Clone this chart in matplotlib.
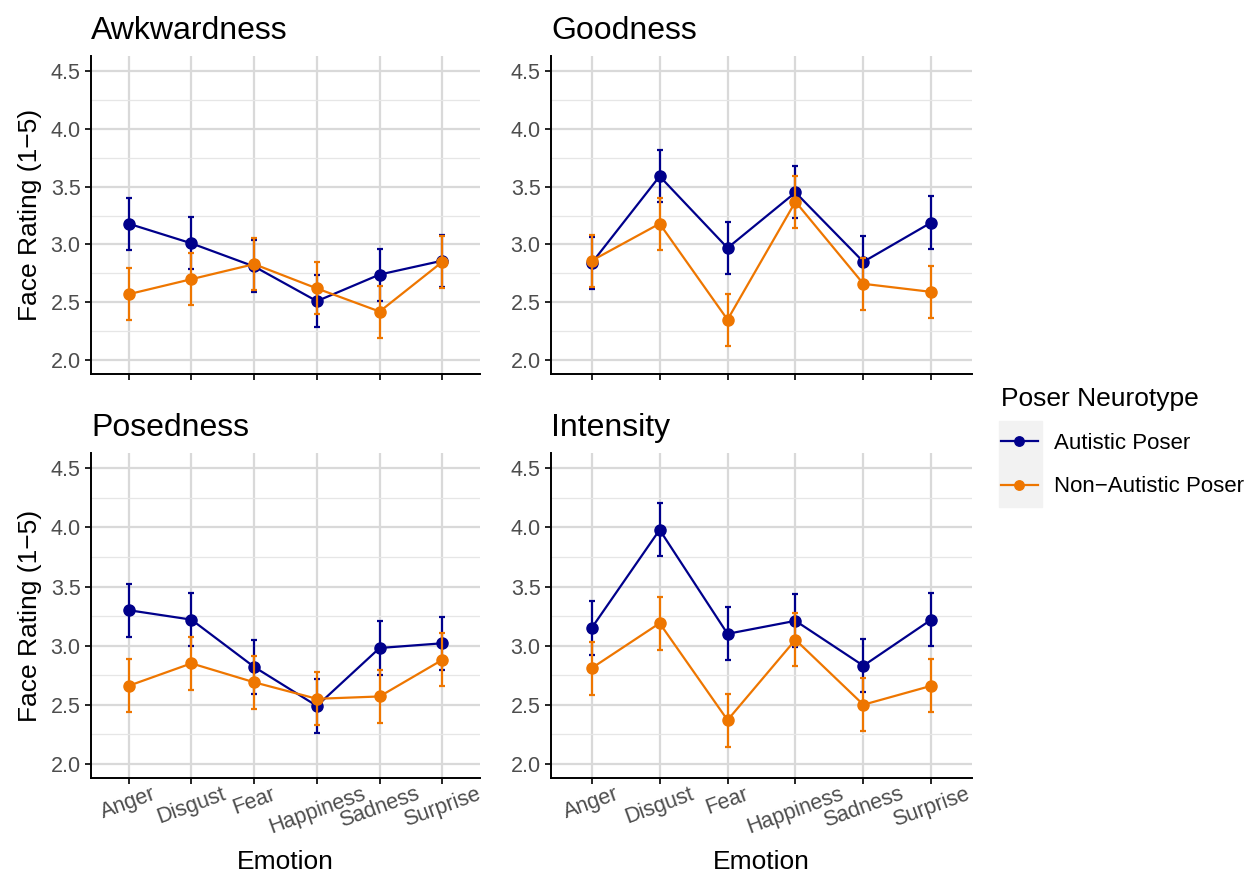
import numpy as np
from matplotlib import pyplot as plt

plt.rcParams['font.family'] = ['Liberation Sans', 'DejaVu Sans']

emotions = ['Anger', 'Disgust', 'Fear', 'Happiness', 'Sadness', 'Surprise']
measures = ['Awkwardness', 'Goodness', 'Posedness', 'Intensity']
groups = ['Autistic Poser', 'Non\u2212Autistic Poser']

# mean ratings
autistic = {
    'Awkwardness': [3.18, 3.01, 2.81, 2.51, 2.74, 2.86],
    'Goodness':    [2.84, 3.59, 2.97, 3.45, 2.85, 3.19],
    'Posedness':   [3.30, 3.22, 2.82, 2.49, 2.98, 3.02],
    'Intensity':   [3.15, 3.98, 3.10, 3.21, 2.83, 3.22],
}
non_autistic = {
    'Awkwardness': [2.57, 2.70, 2.83, 2.62, 2.42, 2.85],
    'Goodness':    [2.86, 3.18, 2.35, 3.37, 2.66, 2.59],
    'Posedness':   [2.66, 2.85, 2.69, 2.55, 2.57, 2.88],
    'Intensity':   [2.81, 3.19, 2.37, 3.05, 2.50, 2.66],
}
# half width of error bars
err_autistic = [0.225, 0.225, 0.225, 0.225, 0.225, 0.225]
err_non_autistic = [0.225, 0.225, 0.225, 0.225, 0.225, 0.225]

col_aut = '#00008B'
col_non = '#EE7600'

W, H = 1247, 873
fig = plt.figure(figsize=(W / 100, H / 100), dpi=100)

# panel boxes in pixels: left, top, right, bottom
boxes = {
    'Awkwardness': (91, 56, 480, 374),
    'Goodness': (551, 56, 972, 374),
    'Posedness': (91, 453, 480, 778),
    'Intensity': (551, 453, 972, 778),
}

x = np.arange(1, len(emotions) + 1)

for m in measures:
    l, t, r, b = boxes[m]
    ax = fig.add_axes([l / W, 1 - b / H, (r - l) / W, (b - t) / H])
    ax.set_xlim(0.4, 6.6)
    ax.set_ylim(1.88, 4.63)
    ax.set_yticks([2.0, 2.5, 3.0, 3.5, 4.0, 4.5])
    ax.set_yticks([2.25, 2.75, 3.25, 3.75, 4.25], minor=True)
    ax.set_xticks(x)
    ax.grid(which='major', color='#d9d9d9', lw=1.6)
    ax.grid(which='minor', axis='y', color='#e6e6e6', lw=0.9)
    ax.set_axisbelow(True)
    for s in ['top', 'right']:
        ax.spines[s].set_visible(False)
    for s in ['left', 'bottom']:
        ax.spines[s].set_linewidth(1.4)
    ax.tick_params(which='minor', length=0)
    ax.tick_params(which='major', length=4, width=1.2, colors='black',
                   labelcolor='#4d4d4d', labelsize=15.5)
    ax.tick_params(axis='x', pad=0)

    ax.errorbar(x, autistic[m], yerr=err_autistic, color=col_aut, lw=1.6,
                marker='o', ms=8, capsize=2.5, capthick=1.6, elinewidth=1.6,
                label=groups[0], zorder=3)
    ax.errorbar(x, non_autistic[m], yerr=err_non_autistic, color=col_non, lw=1.6,
                marker='o', ms=8, capsize=2.5, capthick=1.6, elinewidth=1.6,
                label=groups[1], zorder=4)

    ax.set_title(m, loc='left', fontsize=23, pad=12)

    if m in ['Awkwardness', 'Posedness']:
        ax.set_ylabel('Face Rating (1\u22125)', fontsize=19, labelpad=6)
    if m in ['Posedness', 'Intensity']:
        ax.set_xticklabels(emotions, rotation=20, ha='center')
        fig.text((l + r) / 2 / W, 1 - 862 / H, 'Emotion', fontsize=19,
                 ha='center', va='center')
    else:
        ax.set_xticklabels([])

# legend
handles, labels = ax.get_legend_handles_labels()
handles = [h[0] for h in handles]
leg = fig.legend(handles, labels, title='Poser Neurotype', loc='upper left',
                 bbox_to_anchor=(981 / W, 1 - 367 / H), frameon=False,
                 fontsize=16, title_fontsize=19, handlelength=1.65,
                 handletextpad=0.75, labelspacing=1.0, alignment='left',
                 markerscale=0.85)
fig.patches.append(plt.Rectangle((999 / W, 1 - 507 / H), 43 / W, 86 / H,
                                 transform=fig.transFigure, color='#f2f2f2',
                                 zorder=0))

fig.savefig('out.png', dpi=100)
